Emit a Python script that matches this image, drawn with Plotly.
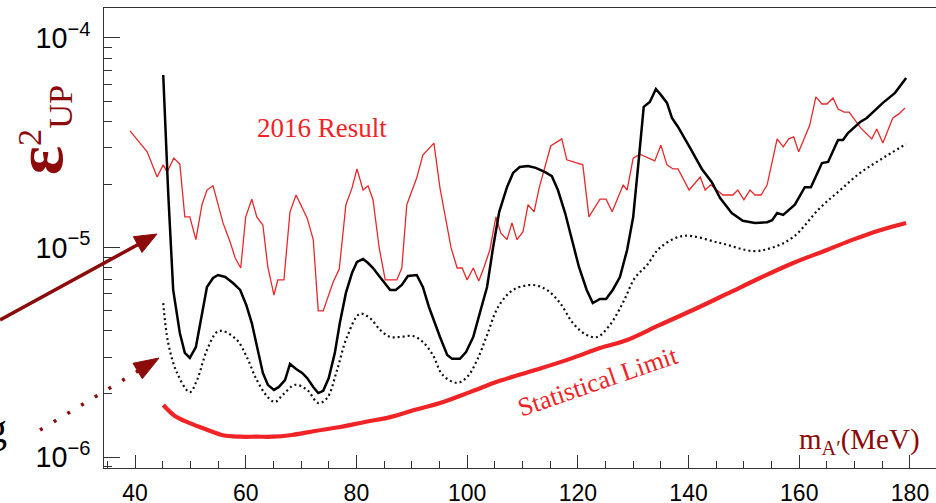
import plotly.graph_objects as go

# ---------------- data ----------------
# 2016 Result (thin red)
red_x = [39.1, 40.9, 42.2, 44.0, 45.1, 45.8, 47.0, 48.1, 49.0, 49.9,
         51.0, 52.1, 53.0, 54.1, 55.9, 57.2, 58.1, 59.1, 60.0, 61.1,
         62.0, 63.1, 64.0, 65.1, 65.8, 66.9, 68.0, 69.1, 71.1, 72.2,
         73.1, 74.0, 75.8, 76.9, 78.1, 79.2, 80.1, 81.2, 82.1, 83.0,
         84.1, 85.2, 87.3, 88.2, 89.1, 90.9, 92.0, 94.0, 95.1, 96.0,
         97.1, 98.2, 99.1, 100.0, 101.1, 102.1, 103.0, 104.1, 105.2, 106.1,
         107.2, 108.1, 109.0, 110.1, 111.0, 112.1, 113.0, 115.1, 117.1, 118.0,
         119.1, 120.9, 122.0, 124.0, 125.1, 126.2, 128.2, 128.9, 130.0, 131.2,
         133.9, 135.0, 136.1, 137.2, 138.1, 140.1, 142.1, 143.0, 144.0, 146.2,
         148.0, 148.9, 150.0, 151.1, 152.0, 153.1, 154.2, 156.0, 157.1, 158.1,
         159.0, 159.9, 161.9, 163.0, 164.1, 165.0, 166.1, 167.0, 168.1, 169.0,
         171.1, 173.1, 174.0, 175.1, 176.9, 178.0, 179.1]
red_y = [3.60e-5, 3.15e-5, 2.86e-5, 2.17e-5, 2.48e-5, 2.29e-5, 2.67e-5, 2.50e-5, 1.40e-5, 1.40e-5,
         1.09e-5, 1.60e-5, 1.88e-5, 1.97e-5, 1.31e-5, 1.06e-5, 8.91e-6, 7.98e-6, 1.40e-5, 1.70e-5,
         1.40e-5, 1.28e-5, 8.07e-6, 5.93e-6, 7.00e-6, 7.00e-6, 1.48e-5, 1.78e-5, 1.38e-5, 1.09e-5,
         4.98e-6, 4.98e-6, 6.84e-6, 7.89e-6, 1.60e-5, 1.92e-5, 2.37e-5, 1.88e-5, 1.97e-5, 1.69e-5,
         1.00e-5, 7.00e-6, 7.00e-6, 7.98e-6, 1.60e-5, 2.15e-5, 2.76e-5, 3.15e-5, 1.92e-5, 1.43e-5,
         9.95e-6, 7.98e-6, 7.98e-6, 7.00e-6, 7.98e-6, 6.92e-6, 7.98e-6, 9.73e-6, 1.40e-5, 1.17e-5,
         1.09e-5, 1.31e-5, 1.09e-5, 1.19e-5, 1.60e-5, 1.48e-5, 1.92e-5, 3.05e-5, 3.30e-5, 2.62e-5,
         2.56e-5, 2.48e-5, 1.40e-5, 1.70e-5, 1.70e-5, 1.48e-5, 1.99e-5, 1.88e-5, 2.67e-5, 2.79e-5,
         2.59e-5, 3.08e-5, 2.48e-5, 2.37e-5, 2.37e-5, 1.88e-5, 2.17e-5, 1.88e-5, 1.99e-5, 1.78e-5,
         1.78e-5, 1.88e-5, 1.69e-5, 1.88e-5, 1.78e-5, 1.78e-5, 1.99e-5, 3.30e-5, 3.02e-5, 3.30e-5,
         3.37e-5, 2.86e-5, 3.84e-5, 5.23e-5, 4.84e-5, 4.84e-5, 5.17e-5, 4.58e-5, 4.43e-5, 4.43e-5,
         3.72e-5, 3.30e-5, 3.68e-5, 3.15e-5, 4.15e-5, 4.34e-5, 4.63e-5]

# solid black curve
blk_x = [45.1, 46.0, 46.9, 48.1, 49.0, 49.9, 51.0, 52.1, 53.0, 54.1,
         55.0, 56.3, 57.7, 59.0, 60.1, 61.1, 62.0, 63.1, 64.0, 65.1,
         66.0, 67.1, 68.0, 69.1, 70.2, 71.1, 72.2, 73.1, 74.0, 75.0,
         76.1, 77.0, 78.1, 79.2, 80.1, 81.2, 82.1, 83.0, 84.1, 85.2,
         86.1, 87.1, 88.2, 89.3, 90.9, 92.0, 93.1, 95.1, 96.4, 97.3,
         98.7, 99.8, 101.1, 102.3, 103.6, 104.7, 105.8, 107.2, 108.3, 109.5,
         111.0, 112.4, 114.1, 115.3, 116.4, 117.7, 119.1, 120.2, 121.6, 122.7,
         124.0, 125.1, 126.3, 127.6, 128.9, 130.0, 131.0, 131.9, 133.0, 134.1,
         135.0, 136.1, 137.0, 138.1, 140.3, 142.4, 144.2, 145.7, 147.8, 149.8,
         152.0, 154.2, 155.1, 156.0, 157.1, 159.2, 161.0, 162.1, 164.1, 165.2,
         167.0, 167.9, 168.8, 171.0, 172.2, 175.1, 177.3, 179.3]
blk_y = [6.66e-5, 1.82e-5, 6.27e-6, 3.91e-6, 3.14e-6, 2.97e-6, 3.35e-6, 4.87e-6, 6.48e-6, 7.15e-6,
         7.39e-6, 7.23e-6, 6.77e-6, 6.27e-6, 5.32e-6, 4.36e-6, 3.35e-6, 2.52e-6, 2.21e-6, 2.09e-6,
         2.16e-6, 2.33e-6, 2.78e-6, 2.63e-6, 2.52e-6, 2.38e-6, 2.16e-6, 2.02e-6, 2.07e-6, 2.38e-6,
         3.14e-6, 4.36e-6, 6.07e-6, 7.55e-6, 8.53e-6, 8.81e-6, 8.43e-6, 7.98e-6, 7.31e-6, 6.70e-6,
         6.27e-6, 6.27e-6, 6.62e-6, 7.31e-6, 7.39e-6, 6.48e-6, 5.20e-6, 3.74e-6, 3.07e-6, 2.94e-6,
         2.94e-6, 3.17e-6, 3.74e-6, 4.87e-6, 6.48e-6, 1.005e-5, 1.48e-5, 1.94e-5, 2.27e-5, 2.42e-5,
         2.45e-5, 2.40e-5, 2.29e-5, 2.19e-5, 1.88e-5, 1.46e-5, 1.05e-5, 8.07e-6, 6.27e-6, 5.43e-6,
         5.68e-6, 5.68e-6, 6.27e-6, 7.23e-6, 9.73e-6, 1.40e-5, 2.62e-5, 4.69e-5, 4.95e-5, 5.71e-5,
         5.35e-5, 4.90e-5, 4.15e-5, 3.76e-5, 2.98e-5, 2.37e-5, 2.05e-5, 1.72e-5, 1.46e-5, 1.34e-5,
         1.31e-5, 1.32e-5, 1.35e-5, 1.46e-5, 1.43e-5, 1.60e-5, 1.94e-5, 1.94e-5, 2.53e-5, 2.56e-5,
         3.26e-5, 3.26e-5, 3.52e-5, 3.97e-5, 4.15e-5, 4.90e-5, 5.47e-5, 6.44e-5]

# dotted black curve
dot_x = [45.1, 46.0, 47.6, 49.9, 51.2, 53.0, 54.8, 55.9, 58.4, 60.2,
         62.0, 64.0, 65.3, 66.7, 68.9, 71.1, 73.1, 74.7, 76.5, 78.3,
         80.6, 82.4, 84.3, 86.1, 87.9, 90.2, 92.0, 93.8, 95.6, 98.2,
         100.0, 101.8, 103.6, 105.6, 108.3, 111.9, 114.4, 116.8, 119.1, 121.6,
         123.5, 125.8, 128.2, 130.3, 132.5, 134.8, 139.0, 145.7, 151.7, 155.2,
         158.9, 163.7, 167.4, 171.0, 174.6, 179.3]
dot_y = [5.43e-6, 3.50e-6, 2.52e-6, 2.04e-6, 2.33e-6, 3.24e-6, 3.95e-6, 3.99e-6, 3.62e-6, 3.00e-6,
         2.33e-6, 1.93e-6, 1.83e-6, 1.98e-6, 2.21e-6, 2.09e-6, 1.81e-6, 1.91e-6, 2.60e-6, 3.74e-6,
         4.82e-6, 4.61e-6, 4.04e-6, 3.74e-6, 3.74e-6, 3.78e-6, 3.54e-6, 3.07e-6, 2.46e-6, 2.26e-6,
         2.41e-6, 2.90e-6, 3.82e-6, 5.20e-6, 6.27e-6, 6.62e-6, 6.27e-6, 5.43e-6, 4.36e-6, 3.82e-6,
         3.74e-6, 4.27e-6, 5.49e-6, 7.15e-6, 8.25e-6, 9.95e-6, 1.135e-5, 1.05e-5, 9.62e-6, 1.00e-5,
         1.12e-5, 1.54e-5, 1.88e-5, 2.27e-5, 2.62e-5, 3.12e-5]

# Statistical Limit (thick red)
stat_x = [45.1, 47.2, 49.9, 53.0, 55.9, 59.0, 62.0, 64.9, 68.0, 72.5,
          77.0, 81.5, 86.1, 90.6, 95.1, 100.5, 105.9, 112.3, 118.6, 124.0,
          128.9, 134.8, 140.8, 146.9, 152.9, 158.9, 165.0, 169.7, 174.6, 179.3]
stat_y = [1.77e-6, 1.57e-6, 1.45e-6, 1.35e-6, 1.27e-6, 1.25e-6, 1.25e-6, 1.25e-6, 1.27e-6, 1.33e-6,
          1.39e-6, 1.47e-6, 1.55e-6, 1.68e-6, 1.81e-6, 2.04e-6, 2.31e-6, 2.60e-6, 2.94e-6, 3.31e-6,
          3.62e-6, 4.27e-6, 5.03e-6, 6.00e-6, 7.15e-6, 8.43e-6, 9.73e-6, 1.09e-5, 1.21e-5, 1.31e-5]

x_ticks = [40, 60, 80, 100, 120, 140, 160, 180]

# ---------------- layout helpers ----------------
W, H = 936, 503
ML, MR, MT, MB = 104, 0, 8, 35
PW, PH = W - ML - MR, H - MT - MB


def px(p):
    return (p - ML) / PW


def py(p):
    return (MT + PH - p) / PH


DARKRED = "#8c0a0a"
RED = "#f02326"
SERIF = "Liberation Serif, Times New Roman, serif"
SANS = "Liberation Sans, Arial, Helvetica, sans-serif"

fig = go.Figure()
fig.add_trace(go.Scatter(x=red_x, y=red_y, mode="lines",
                         line=dict(color="#e8282c", width=1.3), showlegend=False))
fig.add_trace(go.Scatter(x=dot_x, y=dot_y, mode="lines",
                         line=dict(color="#111111", width=2.2, dash="2px,3px", shape="spline"),
                         showlegend=False))
fig.add_trace(go.Scatter(x=blk_x, y=blk_y, mode="lines",
                         line=dict(color="#000000", width=2.5), showlegend=False))
fig.add_trace(go.Scatter(x=stat_x, y=stat_y, mode="lines",
                         line=dict(color=RED, width=4.2, shape="spline"), showlegend=False))

axcol = "#333333"
fig.update_layout(
    width=W, height=H,
    margin=dict(l=ML, r=MR, t=MT, b=MB, pad=0, autoexpand=False),
    paper_bgcolor="white", plot_bgcolor="white",
    xaxis=dict(range=[34.4, 184.7], tickvals=x_ticks, ticks="inside", ticklen=13,
               tickwidth=1, tickcolor=axcol, showline=True, linecolor=axcol, linewidth=1,
               mirror=True, showgrid=False, zeroline=False, automargin=False,
               tickfont=dict(family=SANS, size=23, color="black"), ticklabelstandoff=4,
               minor=dict(ticks="inside", ticklen=7, dtick=5, tick0=0, tickcolor=axcol,
                          showgrid=False)),
    yaxis=dict(type="log", range=[-6.0525, -3.857], dtick=1, exponentformat="power",
               showexponent="all", ticks="inside", ticklen=16, tickwidth=1, tickcolor=axcol,
               showline=True, linecolor=axcol, linewidth=1, showgrid=False, zeroline=False,
               automargin=False,
               tickfont=dict(family=SANS, size=23, color="black"), ticklabelstandoff=8,
               minor=dict(ticks="inside", ticklen=8, dtick="D1", tickcolor=axcol,
                          showgrid=False)),
)

annotations = [
    dict(text='<span style="font-size:68px;font-weight:bold">ε</span><sup>2</sup><sub>UP</sub>',
         x=px(40), y=py(130), xref="paper", yref="paper", textangle=-90,
         showarrow=False, font=dict(family=SERIF, size=49, color=DARKRED),
         xanchor="center", yanchor="middle"),
    dict(text="2016 Result", x=px(322), y=py(128), xref="paper", yref="paper",
         showarrow=False, font=dict(family=SERIF, size=27, color=RED),
         xanchor="center", yanchor="middle"),
    dict(text="Statistical Limit", x=px(598), y=py(381), xref="paper", yref="paper",
         textangle=-19, showarrow=False, font=dict(family=SERIF, size=26, color=RED),
         xanchor="center", yanchor="middle"),
    dict(text="m<sub>A′</sub>(MeV)", x=px(922), y=py(441), xref="paper", yref="paper",
         showarrow=False, font=dict(family=SERIF, size=29, color=DARKRED),
         xanchor="right", yanchor="middle"),
    dict(text="g", x=px(9), y=py(428), xref="paper", yref="paper",
         showarrow=False, font=dict(family=SERIF, size=40, color="black"),
         xanchor="right", yanchor="middle"),
]
fig.update_layout(annotations=annotations)


def tri(tip, c1, c2):
    return "M {} {} L {} {} L {} {} Z".format(px(tip[0]), py(tip[1]), px(c1[0]), py(c1[1]),
                                              px(c2[0]), py(c2[1]))


shapes = [
    dict(type="line", xref="paper", yref="paper", x0=px(0), y0=py(320), x1=px(139), y1=py(244),
         line=dict(color=DARKRED, width=3.5)),
    dict(type="path", xref="paper", yref="paper",
         path=tri((157, 234), (142, 252.5), (133.4, 236.7)),
         fillcolor=DARKRED, line=dict(color=DARKRED, width=1)),
    dict(type="line", xref="paper", yref="paper", x0=px(40), y0=py(430), x1=px(138), y1=py(371),
         line=dict(color=DARKRED, width=3.5, dash="3px,13px")),
    dict(type="path", xref="paper", yref="paper",
         path=tri((159, 358), (142.3, 378.7), (133, 363.3)),
         fillcolor=DARKRED, line=dict(color=DARKRED, width=1)),
]
fig.update_layout(shapes=shapes)

fig.write_html("out.html", config={"displayModeBar": False},
               post_script="document.body.style.margin='0px';document.body.style.overflow='hidden';")
